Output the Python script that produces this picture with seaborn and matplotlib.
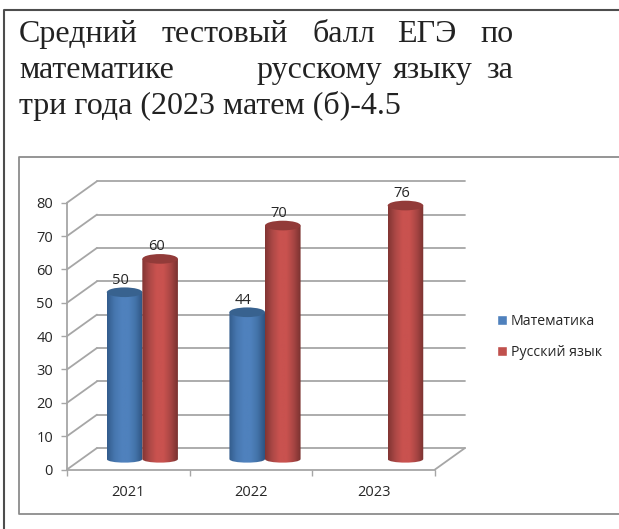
from matplotlib import pyplot as plt
from matplotlib.lines import Line2D
from matplotlib.patches import Ellipse, PathPatch
from matplotlib.path import Path
from matplotlib.transforms import Affine2D
from matplotlib.colors import LinearSegmentedColormap
import numpy as np
import pandas as pd
import seaborn as sns

# Данные
years = ['2021', '2022', '2023']
math_scores = [50, 44, None]
russian_scores = [60, 70, 76]
subjects = ['Математика', 'Русский язык']
y_ticks = [0, 10, 20, 30, 40, 50, 60, 70, 80]
title_line_1 = ['Средний', 'тестовый', 'балл', 'ЕГЭ', 'по']
title_line_2 = ['математике', 'русскому', 'языку', 'за']
title_line_3 = 'три года (2023 матем (б)-4.5'

W, H = 619, 529
colors = {'Математика': '#4F81BD', 'Русский язык': '#C0504D'}
ramps = {
    'Математика': ['#335C8C', '#4676AE', '#4F81BD', '#4F81BD', '#4373A9', '#2E5482'],
    'Русский язык': ['#823533', '#AC4846', '#C9524F', '#C9524F', '#A94644', '#7A3230'],
}
lids = {'Математика': '#38628F', 'Русский язык': '#923B39'}
grid_color = '#A6A6A6'
ui_font = 'Open Sans'
title_size = 23


def px(x, y):
    # пиксели картинки -> координаты фигуры
    return x / W, 1 - y / H


df = pd.DataFrame({
    'year': years * 2,
    'subject': [subjects[0]] * 3 + [subjects[1]] * 3,
    'score': math_scores + russian_scores,
}).dropna()

sns.set_theme(style='white')
fig = plt.figure(figsize=(W / 100, H / 100), dpi=100)

# рамки
fig.add_artist(Line2D([4 / W, 4 / W, 1], [0, 1 - 10 / H, 1 - 10 / H], color='#4D4D4D', lw=1.5))
fig.add_artist(Line2D([1, 19 / W, 19 / W, 1], [1 - 157 / H, 1 - 157 / H, 1 - 514 / H, 1 - 514 / H],
                      color='#8C8C8C', lw=1.3))

# заголовок
for word, x in zip(title_line_1, [19, 162, 312, 397, 480]):
    fig.text(*px(x, 42), word, family='Liberation Serif', fontsize=title_size, color='#222222')
for word, x in zip(title_line_2, [19, 256, 393, 486]):
    fig.text(*px(x, 78), word, family='Liberation Serif', fontsize=title_size, color='#222222')
fig.text(*px(19, 114), title_line_3, family='Liberation Serif', fontsize=title_size, color='#222222')

left, right, top, bottom = 67, 435, 202.7, 469.5
ax = fig.add_axes([left / W, 1 - bottom / H, (right - left) / W, (bottom - top) / H])
ax.patch.set_alpha(0)

sns.barplot(data=df, x='year', y='score', hue='subject', order=years, hue_order=subjects,
            palette=colors, width=0.58, gap=0, saturation=1, ax=ax, legend=True)

ax.set_xlim(-0.5, 2.5)
ax.set_ylim(0, 80)
ax.set_xlabel('')
ax.set_ylabel('')

# псевдо-3D: сдвиг в пикселях до задней стенки и до столбиков
back = ax.transData + Affine2D().translate(30, 21.5)
mid = ax.transData + Affine2D().translate(14, 10.5)

for v in y_ticks:
    ax.plot([-0.5, 2.5], [v, v], transform=back, color=grid_color, lw=1.3, clip_on=False, zorder=0.5)
    y0 = H - bottom + v * (bottom - top) / 80
    ax.add_line(Line2D([left, left + 30], [y0, y0 + 21.5], transform=None, color=grid_color,
                       lw=1.3, zorder=0.5, clip_on=False))
ax.add_line(Line2D([right, right + 30], [H - bottom, H - bottom + 21.5], transform=None,
                   color=grid_color, lw=1.3, zorder=0.5, clip_on=False))

# цилиндры
order = 2
for container, subject in zip(ax.containers, subjects):
    cmap = LinearSegmentedColormap.from_list(subject, ramps[subject])
    for bar in container:
        x0, w, h = bar.get_x(), bar.get_width(), bar.get_height()
        if np.isnan(h):
            continue
        bar.set_visible(False)
        ry = 1.45  # полувысота эллипса в единицах оси
        body = Path([(x0, 0), (x0, -ry), (x0 + w, -ry), (x0 + w, 0), (x0 + w, h), (x0, h), (x0, 0)],
                    [1, 4, 4, 4, 2, 2, 79])
        clip = PathPatch(body, transform=mid, fc='none', ec='none')
        ax.add_patch(clip)
        clip.set_clip_on(False)
        im = ax.imshow(np.linspace(0, 1, 64)[None, :], cmap=cmap, aspect='auto',
                       extent=(x0, x0 + w, -ry, h), transform=mid, zorder=order)
        im.set_clip_path(clip)
        ax.add_patch(Ellipse((x0 + w / 2, h), w, ry * 2, transform=mid, fc=lids[subject],
                             ec='none', zorder=order + 0.1, clip_on=False))
        ax.annotate(f'{h:.0f}', (x0 + w / 2, h), xycoords=mid, xytext=(-4, 12), textcoords='offset pixels',
                    ha='center', va='center', family=ui_font, fontsize=10.5, color='#262626',
                    zorder=10, annotation_clip=False)
    order += 1

ax.set_xlim(-0.5, 2.5)
ax.set_ylim(0, 80)

# оси
sns.despine(ax=ax)
ax.spines['left'].set_color(grid_color)
ax.spines['bottom'].set_color(grid_color)
ax.spines['left'].set_linewidth(1.3)
ax.spines['bottom'].set_linewidth(1.3)
ax.set_yticks(y_ticks)
ax.set_xticks([-0.5, 0.5, 1.5, 2.5], minor=True)
ax.tick_params(axis='y', length=4, width=1, color=grid_color, left=True, pad=6, labelsize=10.5,
               labelcolor='#262626')
ax.tick_params(axis='x', which='major', length=0, pad=11, labelsize=10.5, labelcolor='#262626')
ax.tick_params(axis='x', which='minor', length=4, width=1, color=grid_color, bottom=True)
for label in ax.get_xticklabels() + ax.get_yticklabels():
    label.set_family(ui_font)

handles, labels = ax.get_legend_handles_labels()
ax.legend(handles, labels, loc='center left', bbox_to_anchor=px(484, 337), bbox_transform=fig.transFigure,
          frameon=False, handlelength=0.7, handleheight=0.7, handletextpad=0.3, labelspacing=1.12,
          prop={'family': ui_font, 'size': 10.2}, labelcolor='#262626')

fig.savefig('out.png', dpi=100)
